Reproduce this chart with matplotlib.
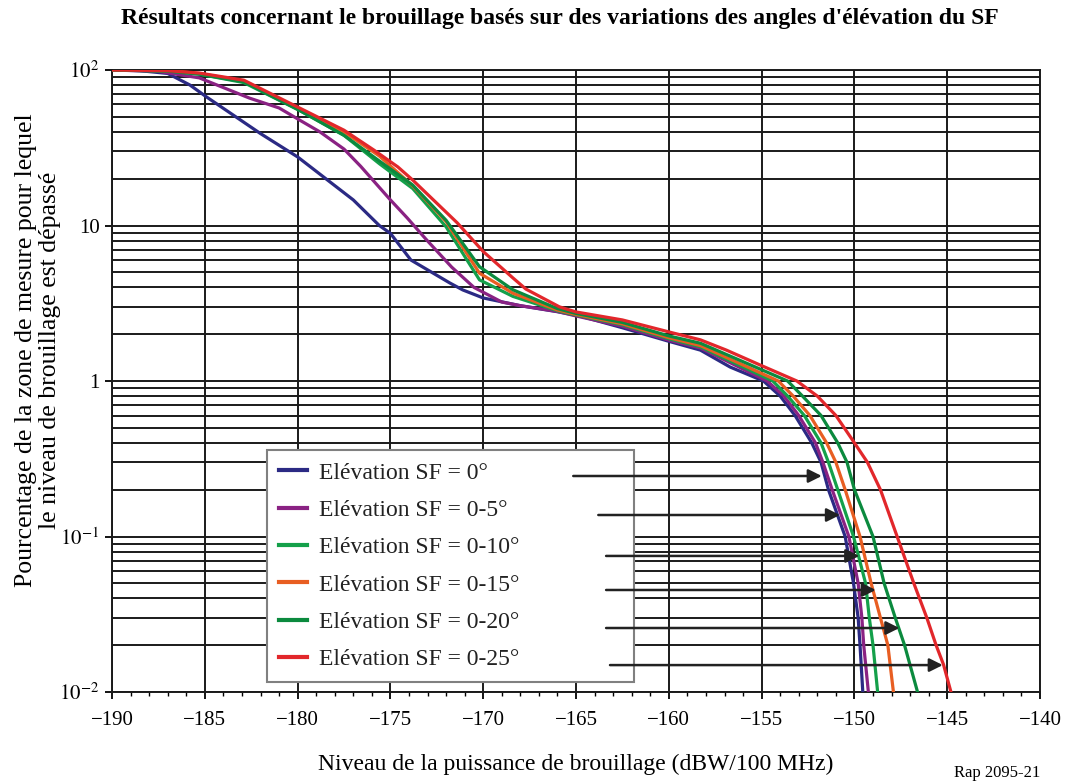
import matplotlib
matplotlib.use("Agg")
import matplotlib.pyplot as plt
from matplotlib.ticker import FixedLocator, LogLocator, NullFormatter, MultipleLocator

plt.rcParams['font.family'] = ['Liberation Serif', 'DejaVu Serif']
plt.rcParams['mathtext.fontset'] = 'stix'

# Interference level (dBW/100 MHz) vs percentage of area exceeded, per elevation range
blue_x = [-190, -188.5, -187, -185.8, -184.9, -182, -180, -177, -175.6, -175, -173.9, -171.8, -171.1,
          -170, -168, -166, -164.8, -162.5, -160, -158.3, -156.7, -154.9, -154.0, -153.2, -152.3,
          -151.8, -151.4, -150.5, -150.05, -149.8, -149.7, -149.55]
blue_y = [100, 99, 95, 80, 67, 39, 27.6, 14.6, 10, 8.9, 6.0, 4.27, 3.85,
          3.42, 3.05, 2.79, 2.62, 2.2, 1.8, 1.58, 1.23, 1.0, 0.8, 0.6, 0.4,
          0.3, 0.2, 0.1, 0.05, 0.03, 0.02, 0.01]

purple_x = [-190, -187.5, -185.3, -182.6, -181, -179.9, -178.8, -177.5, -176.6, -175, -174.1, -173.1,
            -171.7, -170.5, -169, -168, -166, -165, -162.5, -160, -158.3, -154.7, -153.8, -153.0,
            -152.1, -151.7, -151.2, -150.3, -149.8, -149.6, -149.5, -149.25]
purple_y = [100, 98, 89, 66, 57, 47.7, 40, 31, 24, 14.6, 11.2, 8.2,
            5.4, 4.0, 3.22, 3.05, 2.8, 2.62, 2.25, 1.83, 1.63, 1.0, 0.8, 0.6,
            0.4, 0.3, 0.2, 0.1, 0.05, 0.03, 0.02, 0.01]

green10_x = [-190, -187, -185.3, -182.9, -179.9, -177.5, -175.6, -173.8, -172.0, -170.2, -168.4, -166,
             -165, -162.5, -160, -158.3, -154.4, -153.6, -152.7, -151.8, -151.4, -150.9, -150.05,
             -149.4, -149.2, -149.0, -148.75]
green10_y = [100, 98.5, 94, 83, 55, 38, 25, 17.3, 9.8, 4.47, 3.5, 2.83,
             2.66, 2.3, 1.87, 1.66, 1.0, 0.8, 0.6, 0.4, 0.3, 0.2, 0.1,
             0.05, 0.03, 0.02, 0.01]

orange_x = [-190, -187, -185.3, -182.9, -179.9, -177.5, -175.6, -173.8, -172.0, -170.2, -168.4, -166,
            -165, -162.5, -160, -158.3, -154.1, -153.3, -152.4, -151.5, -151.0, -150.5, -149.7,
            -149.1, -148.6, -148.2, -147.9]
orange_y = [100, 99, 95, 85, 56, 40, 28, 18, 10.6, 4.93, 3.67, 2.86,
            2.68, 2.33, 1.9, 1.69, 1.0, 0.8, 0.6, 0.4, 0.3, 0.2, 0.1,
            0.05, 0.03, 0.02, 0.01]

green20_x = [-190, -187, -185.3, -182.9, -179.9, -177.5, -175.6, -173.8, -172.0, -170.2, -168.4, -166,
             -165, -162.5, -160, -158.3, -153.6, -152.8, -151.8, -150.9, -150.4, -150.0, -149.0,
             -148.4, -147.8, -147.3, -146.6]
green20_y = [100, 98.5, 94, 84, 55, 38, 26, 18.2, 10.8, 5.43, 3.86, 2.92,
             2.72, 2.38, 1.95, 1.75, 1.0, 0.8, 0.6, 0.4, 0.3, 0.2, 0.1,
             0.05, 0.03, 0.02, 0.01]

red_x = [-190, -187, -185.3, -182.9, -179.9, -177.5, -175.9, -174.6, -173.8, -171.4, -170, -168.4,
         -167.7, -166.9, -165.9, -165, -162.5, -159.8, -158.3, -156.9, -155.1, -153.1, -152.0,
         -151.0, -150.0, -149.3, -148.6, -147.7, -146.8, -146.1, -145.6, -145.2, -144.8]
red_y = [100, 99, 95.6, 86, 57, 41, 30.6, 23.8, 19.6, 10.4, 6.8, 4.6,
         3.9, 3.47, 3.0, 2.78, 2.47, 2.04, 1.84, 1.58, 1.27, 1.0, 0.8,
         0.6, 0.4, 0.3, 0.2, 0.1, 0.05, 0.03, 0.02, 0.015, 0.01]

labels = ["Elévation SF = 0°", "Elévation SF = 0-5°", "Elévation SF = 0-10°",
          "Elévation SF = 0-15°", "Elévation SF = 0-20°", "Elévation SF = 0-25°"]
colors = ["#2b2a84", "#8a2283", "#14a04a", "#e85e22", "#0b8a3e", "#e2272b"]

# arrows from legend entries to their curves
arrow_y = [0.245, 0.1375, 0.075, 0.0453, 0.0258, 0.0149]
arrow_start = [-165.15, -163.8, -163.38, -163.38, -163.38, -163.17]
arrow_end = [-151.76, -150.78, -149.74, -148.85, -147.58, -145.24]

series = [(blue_x, blue_y), (purple_x, purple_y), (green10_x, green10_y),
          (orange_x, orange_y), (green20_x, green20_y), (red_x, red_y)]

fig = plt.figure(figsize=(10.71, 7.83), dpi=100)
ax = fig.add_axes([0.1046, 0.1162, 0.8665, 0.7944])

for (xs, ys), c, lab in zip(series, colors, labels):
    ax.plot(xs, ys, color=c, lw=2.3, label=lab, zorder=3, solid_joinstyle='round')

ax.set_yscale('log')
ax.set_xlim(-190, -140)
ax.set_ylim(0.01, 100)

ax.xaxis.set_major_locator(MultipleLocator(5))
ax.xaxis.set_minor_locator(MultipleLocator(1))
ax.yaxis.set_major_locator(FixedLocator([0.01, 0.1, 1, 10, 100]))
ax.yaxis.set_minor_locator(LogLocator(base=10, subs=range(2, 10)))
ax.yaxis.set_minor_formatter(NullFormatter())
ax.set_yticklabels(['$10^{-2}$', '$10^{-1}$', '1', '10', '$10^{2}$'])

ax.tick_params(which='major', direction='out', length=5, width=1.3, labelsize=15, pad=4)
ax.tick_params(axis='x', which='major', pad=9)
ax.tick_params(which='minor', direction='out', length=3, width=1.0)
ax.tick_params(axis='y', which='minor', length=0)

ax.grid(which='major', axis='both', color='#1a1a1a', lw=1.4, zorder=1)
ax.grid(which='minor', axis='y', color='#1a1a1a', lw=1.4, zorder=1)
for sp in ax.spines.values():
    sp.set_linewidth(1.4)
    sp.set_color('#1a1a1a')

leg = ax.legend(loc='lower left', bbox_to_anchor=(0.167, 0.016, 0.395, 0.36), mode='expand',
                borderaxespad=0, fontsize=17, handlelength=1.2, handletextpad=0.5,
                labelspacing=0.67, borderpad=0.5, fancybox=False, framealpha=1,
                edgecolor='#808080')
leg.get_frame().set_linewidth(1.5)
for h in leg.get_lines():
    h.set_linewidth(3)
for t in leg.get_texts():
    t.set_color('#222222')

for y, x0, x1 in zip(arrow_y, arrow_start, arrow_end):
    ax.annotate('', xy=(x1, y), xytext=(x0, y),
                arrowprops=dict(arrowstyle='-|>', color='#222222', lw=1.8,
                                mutation_scale=20, shrinkA=0, shrinkB=0),
                zorder=6)

ax.set_xlabel("Niveau de la puissance de brouillage (dBW/100 MHz)", fontsize=17, labelpad=17)
ax.set_ylabel("Pourcentage de la zone de mesure pour lequel\nle niveau de brouillage est dépassé",
              fontsize=18.5, linespacing=1.1)
ax.yaxis.set_label_coords(-0.055, 0.55)

fig.text(0.523, 0.977, "Résultats concernant le brouillage basés sur des variations des angles d'élévation du SF",
         ha='center', va='center', fontsize=17, fontweight='bold')
fig.text(0.971, 0.002, "Rap 2095-21", ha='right', va='bottom', fontsize=12)

fig.savefig("out.png", dpi=100)
